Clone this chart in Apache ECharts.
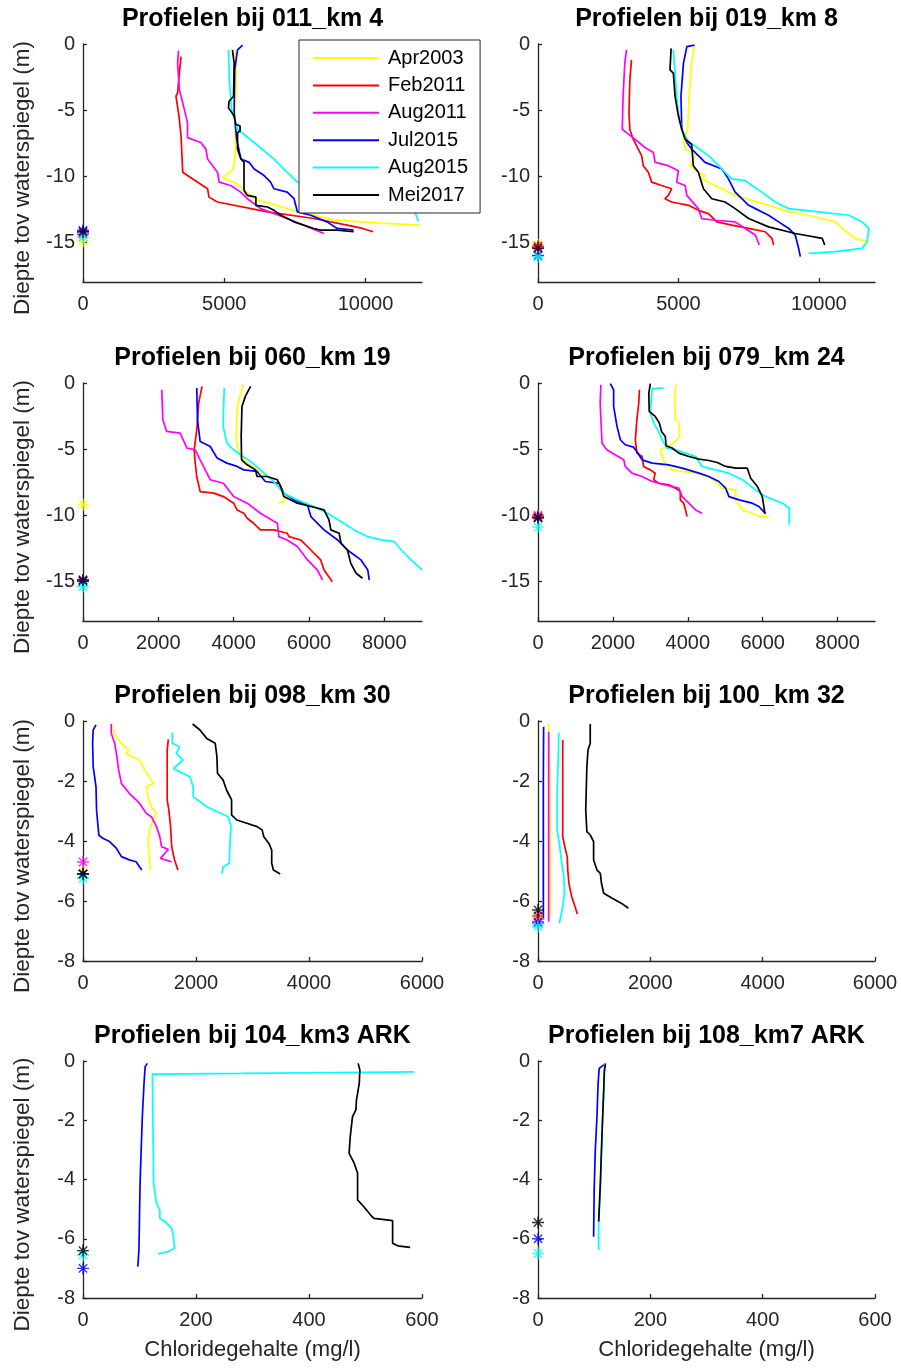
<!DOCTYPE html>
<html lang="nl">
<head>
<meta charset="UTF-8">
<title>Profielen chloridegehalte</title>
<script src="https://cdn.jsdelivr.net/npm/echarts@6/dist/echarts.min.js"></script>
<style>
  html, body { margin: 0; padding: 0; background: #fff; }
  #chart { width: 901px; height: 1369px; }
</style>
</head>
<body>
<div id="chart"></div>
<script>
// metingen: [chloride (mg/l), diepte (m)]
var seriesNames = ['Apr2003', 'Feb2011', 'Aug2011', 'Jul2015', 'Aug2015', 'Mei2017'];
var panelTitles = ['Profielen bij 011_km 4', 'Profielen bij 019_km 8', 'Profielen bij 060_km 19', 'Profielen bij 079_km 24',
  'Profielen bij 098_km 30', 'Profielen bij 100_km 32', 'Profielen bij 104_km3 ARK', 'Profielen bij 108_km7 ARK'];
var xMax = [12000, 12000, 9000, 9000, 6000, 6000, 600, 600];
var xTickValues = [[0, 5000, 10000], [0, 5000, 10000], [0, 2000, 4000, 6000, 8000], [0, 2000, 4000, 6000, 8000],
  [0, 2000, 4000, 6000], [0, 2000, 4000, 6000], [0, 200, 400, 600], [0, 200, 400, 600]];
var yMin = [-18, -18, -18, -18, -8, -8, -8, -8];
var yTickValues = [[0, -5, -10, -15], [0, -5, -10, -15], [0, -5, -10, -15], [0, -5, -10, -15],
  [0, -2, -4, -6, -8], [0, -2, -4, -6, -8], [0, -2, -4, -6, -8], [0, -2, -4, -6, -8]];

// 011_km 4
var p011_apr03 = [[5400,-0.5],[5420,-3],[5380,-6.0],[5400,-8.0],[5350,-9.0],[5300,-9.5],[4940,-10.1],[5470,-10.6],[6060,-11.7],[7470,-12.6],[8880,-13.3],[10500,-13.55],[11940,-13.7]];
var p011_feb11 = [[3470,-0.95],[3420,-2],[3350,-3.7],[3290,-3.95],[3400,-5.5],[3470,-6.95],[3530,-9.7],[3700,-9.95],[4410,-10.95],[4460,-11.58],[4760,-11.95],[6530,-12.7],[8170,-13.2],[9350,-13.7],[9900,-13.95],[10270,-14.2]];
var p011_aug11 = [[3380,-0.5],[3350,-1.45],[3410,-3.45],[3530,-4.45],[3700,-5.95],[3700,-7.08],[4170,-7.45],[4350,-7.95],[4410,-8.7],[4760,-9.7],[4820,-10.45],[5230,-10.7],[5580,-11.2],[5820,-11.7],[6290,-12.45],[7230,-13.2],[8530,-14.33]];
var p011_jul15 = [[5650,-0.08],[5470,-0.45],[5370,-1.95],[5350,-5.2],[5440,-7.2],[5590,-8.7],[5880,-8.95],[6060,-9.45],[6410,-9.95],[6640,-10.45],[6760,-10.95],[7230,-11.2],[7470,-11.7],[7590,-12.7],[8060,-12.95],[8640,-13.45],[9000,-13.95],[9580,-14.08]];
var p011_aug15 = [[5150,-0.45],[5180,-2.7],[5260,-4.95],[5470,-6.45],[6060,-7.45],[6760,-8.7],[7230,-9.7],[7590,-10.45],[8500,-10.6],[9800,-11.0],[11000,-11.6],[11700,-12.4],[11870,-13.4]];
var p011_mei17 = [[5290,-0.45],[5350,-1.45],[5330,-3.95],[5170,-4.33],[5150,-4.83],[5350,-5.45],[5410,-6.08],[5560,-6.2],[5560,-6.58],[5470,-6.7],[5470,-7.95],[5590,-8.7],[5700,-8.95],[5700,-11.08],[5820,-11.45],[6120,-11.58],[6120,-12.2],[6530,-12.33],[6760,-12.58],[7000,-12.95],[7470,-13.45],[8170,-13.95],[8410,-14.08],[9000,-14.08],[9580,-14.2]];
var p011_stars = [-14.9, -14.3, -14.4, -14.1, -14.6, -14.2];

// 019_km 8
var p019_apr03 = [[5570,-0.08],[5470,-1.45],[5380,-3.95],[5330,-6.45],[5180,-7.2],[5240,-7.95],[5470,-8.2],[5590,-8.45],[5410,-9.2],[5710,-9.7],[5950,-9.95],[5830,-10.2],[6070,-10.45],[6550,-10.95],[7020,-11.45],[7620,-11.83],[8210,-12.2],[8930,-12.7],[9640,-12.95],[10590,-13.45],[10830,-13.95],[11300,-14.7],[11720,-14.95]];
var p019_feb11 = [[3330,-1.2],[3270,-2.7],[3240,-5.2],[3270,-6.45],[3390,-7.2],[3570,-7.95],[3690,-8.45],[3750,-9.2],[3930,-9.7],[4050,-10.45],[4400,-10.7],[4760,-10.95],[4640,-11.45],[4520,-11.7],[4760,-11.95],[5360,-12.2],[5710,-12.58],[6070,-12.83],[6370,-13.45],[6900,-13.7],[7500,-13.95],[8090,-14.2],[8330,-14.7],[8390,-15.2]];
var p019_aug11 = [[3150,-0.45],[3090,-1.45],[3030,-3.95],[3000,-6.45],[3150,-6.7],[3450,-7.2],[3810,-7.83],[4110,-8.2],[4170,-8.95],[4640,-9.2],[5000,-9.58],[4940,-10.45],[5240,-10.7],[5300,-11.45],[5710,-12.45],[5830,-13.2],[6310,-13.33],[7020,-13.45],[7380,-13.95],[7740,-14.45],[7880,-15.2]];
var p019_jul15 = [[5570,-0.08],[5300,-0.2],[5180,-1.45],[5090,-3.95],[5120,-6.45],[5300,-7.45],[5470,-7.95],[5710,-8.45],[5950,-8.95],[6550,-9.45],[6780,-10.2],[7020,-11.2],[7260,-11.7],[7500,-12.2],[7740,-12.45],[8210,-12.95],[8570,-13.45],[8930,-13.95],[9160,-14.45],[9280,-15.45],[9340,-16.08]];
var p019_aug15 = [[4820,-0.45],[4880,-2.2],[4940,-3.95],[5000,-5.2],[5120,-6.45],[5360,-7.45],[5590,-7.7],[6070,-8.45],[6430,-9.2],[6660,-9.7],[6900,-10.2],[7380,-10.33],[7620,-10.7],[7970,-11.2],[8450,-11.95],[8930,-12.45],[10000,-12.7],[11070,-12.95],[11540,-13.45],[11780,-13.95],[11720,-14.95],[11540,-15.45],[10590,-15.7],[9640,-15.83]];
var p019_mei17 = [[4740,-0.33],[4700,-1.95],[4820,-2.2],[4880,-3.95],[5000,-5.45],[5120,-6.45],[5240,-7.2],[5470,-7.58],[5530,-9.2],[5710,-9.7],[5890,-10.95],[6190,-11.7],[6660,-11.95],[7020,-12.45],[7500,-13.2],[8210,-13.83],[9160,-14.33],[10120,-14.7],[10210,-15.2]];
var p019_stars = [-15.2, -15.3, -15.4, -16.0, -16.1, -15.45];

// 060_km 19
var p060_apr03 = [[4270,-0.13],[4180,-0.76],[4090,-2.02],[4070,-4.04],[4090,-4.8],[4180,-5.56],[4360,-6.06],[4620,-6.57],[4890,-7.07],[5160,-7.58],[5290,-8.08],[5380,-8.59],[5330,-8.96],[5200,-9.09]];
var p060_feb11 = [[3160,-0.25],[3070,-1.52],[3020,-3.54],[2950,-5.05],[2980,-6.06],[3020,-7.07],[3110,-8.21],[3470,-8.33],[3730,-8.59],[4000,-9.09],[4090,-9.6],[4270,-9.85],[4360,-10.23],[4530,-10.61],[4710,-11.11],[5070,-11.11],[5420,-11.36],[5470,-11.62],[5780,-11.87],[6050,-12.63],[6310,-13.38],[6400,-14.14],[6620,-15.03]];
var p060_aug11 = [[2090,-0.51],[2120,-2.78],[2220,-3.66],[2580,-3.79],[2760,-4.92],[2980,-5.05],[3110,-5.81],[3380,-7.32],[3730,-7.58],[4000,-8.59],[4360,-9.09],[4710,-9.85],[5160,-10.61],[5200,-11.62],[5420,-11.87],[5690,-12.37],[5960,-13.38],[6220,-14.14],[6360,-14.9]];
var p060_jul15 = [[3020,-0.38],[3040,-2.78],[3110,-4.42],[3380,-4.8],[3560,-5.68],[3820,-6.06],[4090,-6.31],[4270,-6.57],[4620,-6.69],[4840,-7.45],[5200,-7.58],[5330,-8.33],[5600,-8.84],[5960,-9.22],[6050,-10.1],[6400,-11.11],[6760,-11.87],[7020,-12.63],[7380,-13.38],[7560,-14.14],[7600,-14.9]];
var p060_aug15 = [[3750,-0.38],[3730,-2.02],[3720,-3.28],[3820,-4.55],[4000,-5.05],[4180,-5.43],[4450,-5.93],[4710,-6.57],[5020,-7.32],[5330,-8.33],[5690,-8.84],[6130,-9.34],[6490,-9.85],[6850,-10.48],[7200,-11.11],[7560,-11.62],[7910,-11.87],[8270,-12.0],[8450,-12.63],[8710,-13.38],[9000,-14.14]];
var p060_mei17 = [[4450,-0.25],[4310,-1.01],[4220,-1.77],[4200,-4.04],[4210,-5.81],[4360,-6.19],[4580,-6.57],[4620,-7.07],[4890,-7.07],[5160,-7.32],[5250,-7.83],[5330,-8.59],[5690,-9.09],[6050,-9.34],[6400,-9.6],[6530,-10.35],[6580,-11.11],[6800,-11.36],[6850,-12.12],[7020,-12.63],[7110,-13.64],[7250,-14.39],[7420,-14.77]];
var p060_stars = [-9.2, -15.0, -14.9, -15.0, -15.4, -14.9];

// 079_km 24
var p079_apr03 = [[3690,-0.13],[3650,-0.76],[3670,-2.78],[3780,-3.03],[3780,-4.04],[3670,-4.42],[3450,-4.8],[3270,-5.05],[3360,-5.93],[3580,-6.57],[3850,-6.69],[4210,-6.82],[4560,-7.07],[4790,-7.58],[4920,-7.95],[5280,-8.08],[5280,-8.84],[5460,-9.6],[5720,-9.85],[5900,-10.1],[6170,-10.1]];
var p079_feb11 = [[2710,-0.51],[2690,-1.52],[2640,-2.78],[2600,-4.29],[2640,-5.3],[2780,-5.56],[2820,-6.31],[3000,-6.57],[3130,-6.82],[3090,-7.32],[3220,-7.58],[3490,-7.7],[3670,-7.95],[3800,-8.21],[3800,-8.84],[3890,-9.09],[3940,-9.6],[3980,-10.1]];
var p079_aug11 = [[1680,-0.13],[1660,-1.52],[1710,-4.55],[1840,-5.05],[2060,-5.43],[2290,-5.81],[2330,-6.31],[2510,-6.82],[2780,-7.07],[3050,-7.45],[3400,-7.7],[3760,-7.95],[3850,-8.59],[4030,-9.09],[4210,-9.6],[4380,-9.85]];
var p079_jul15 = [[1930,-0.05],[2020,-0.51],[2020,-1.77],[2110,-3.28],[2200,-4.29],[2330,-4.67],[2550,-4.85],[2640,-5.18],[2780,-5.81],[3050,-6.06],[3490,-6.19],[3850,-6.44],[4300,-6.82],[4560,-7.07],[4830,-7.45],[5010,-7.95],[5100,-8.59],[5370,-8.84],[5720,-9.09],[5900,-9.34],[6080,-9.9]];
var p079_aug15 = [[3360,-0.38],[3050,-0.43],[3000,-2.27],[3090,-3.03],[3220,-3.66],[3310,-4.29],[3450,-4.92],[3670,-5.05],[3940,-5.3],[4210,-5.56],[4380,-6.31],[4740,-6.57],[5100,-6.82],[5460,-7.32],[5810,-8.08],[6080,-8.59],[6530,-9.09],[6710,-9.47],[6710,-10.73]];
var p079_mei17 = [[3000,-0.05],[2960,-0.76],[2970,-2.15],[3130,-2.53],[3240,-3.03],[3300,-3.66],[3400,-4.04],[3420,-4.75],[3580,-4.92],[3760,-5.3],[4030,-5.56],[4300,-5.76],[4560,-5.86],[4790,-6.01],[5010,-6.31],[5280,-6.44],[5590,-6.44],[5680,-7.2],[5860,-7.83],[5990,-8.59],[6060,-9.85]];
var p079_stars = [-10.1, -10.1, -10.0, -10.2, -10.9, -10.2];

// 098_km 30
var p098_apr03 = [[530,-0.19],[560,-0.47],[680,-0.74],[810,-0.97],[760,-1.08],[1000,-1.3],[1090,-1.63],[1250,-2.08],[1120,-2.19],[1150,-2.52],[1210,-2.86],[1300,-3.08],[1240,-3.3],[1180,-3.63],[1150,-3.97],[1170,-4.41],[1190,-4.97]];
var p098_feb11 = [[1510,-0.61],[1490,-0.97],[1490,-1.86],[1490,-2.63],[1520,-2.97],[1550,-3.52],[1570,-4.19],[1620,-4.63],[1680,-4.97]];
var p098_aug11 = [[500,-0.1],[500,-0.41],[560,-0.74],[600,-1.19],[630,-1.63],[680,-2.08],[820,-2.41],[1000,-2.74],[1120,-3.08],[1210,-3.19],[1300,-3.52],[1360,-3.86],[1390,-4.19],[1510,-4.28],[1450,-4.41],[1370,-4.58],[1570,-4.69]];
var p098_jul15 = [[230,-0.13],[180,-0.3],[170,-0.74],[180,-1.52],[230,-2.19],[240,-2.97],[280,-3.8],[350,-3.91],[470,-4.02],[590,-4.24],[680,-4.52],[820,-4.63],[940,-4.69],[1000,-4.86],[1040,-4.97]];
var p098_aug15 = [[1580,-0.39],[1580,-0.74],[1710,-0.86],[1650,-1.08],[1770,-1.3],[1600,-1.58],[1890,-1.86],[1950,-2.19],[1950,-2.52],[2190,-2.86],[2370,-3.02],[2570,-3.19],[2620,-3.52],[2600,-4.08],[2590,-4.74],[2480,-4.86],[2460,-5.08]];
var p098_mei17 = [[1940,-0.1],[2070,-0.3],[2190,-0.58],[2340,-0.74],[2370,-1.19],[2380,-1.74],[2480,-1.97],[2540,-2.3],[2630,-2.63],[2630,-3.13],[2720,-3.3],[2900,-3.41],[3080,-3.52],[3170,-3.63],[3200,-3.86],[3290,-4.08],[3340,-4.3],[3340,-4.74],[3370,-4.97],[3490,-5.1]];
var p098_stars = [-5.0, -5.1, -4.7, -5.1, -5.24, -5.1];

// 100_km 32
var p100_apr03 = [[190,-0.1],[190,-0.36],[215,-1.85],[220,-4.0],[220,-6.52]];
var p100_feb11 = [[440,-0.63],[460,-0.69],[440,-1.86],[440,-3.86],[490,-4.3],[520,-4.52],[530,-4.97],[550,-5.41],[600,-5.86],[660,-6.19],[700,-6.43]];
var p100_aug11 = [[190,-0.36],[190,-3.0],[190,-6.69]];
var p100_jul15 = [[100,-0.19],[95,-2.0],[95,-4.0],[95,-6.63]];
var p100_aug15 = [[370,-0.39],[360,-1.3],[340,-2.41],[340,-3.63],[380,-4.08],[415,-4.63],[460,-5.19],[470,-5.74],[430,-6.3],[380,-6.74]];
var p100_mei17 = [[930,-0.1],[930,-0.74],[890,-0.97],[870,-1.52],[850,-2.97],[870,-3.69],[930,-3.8],[990,-4.02],[990,-4.63],[1050,-4.97],[1110,-5.08],[1130,-5.41],[1170,-5.74],[1320,-5.91],[1490,-6.08],[1610,-6.24]];
var p100_stars = [-6.6, -6.5, -6.75, -6.7, -6.85, -6.3];

// 104_km3 ARK
var p104_jul15 = [[114,-0.08],[110,-0.19],[108,-0.75],[105,-1.88],[103,-3.0],[101,-4.13],[100,-5.25],[99,-6.38],[97,-6.94]];
var p104_aug15 = [[586,-0.37],[450,-0.39],[281,-0.42],[123,-0.44],[123,-0.75],[124,-2.44],[125,-4.13],[130,-4.8],[136,-5.03],[136,-5.31],[145,-5.42],[157,-5.65],[160,-5.93],[162,-6.32],[151,-6.43],[133,-6.51]];
var p104_mei17 = [[487,-0.08],[490,-0.3],[489,-0.75],[484,-1.32],[483,-1.65],[477,-1.88],[473,-2.55],[471,-3.12],[480,-3.45],[486,-3.79],[486,-4.69],[497,-4.92],[509,-5.2],[515,-5.31],[548,-5.39],[548,-6.15],[557,-6.24],[579,-6.29]];
var p104_stars = [null, null, null, -7.0, -6.55, -6.4];

// 108_km7 ARK
var p108_jul15 = [[117,-0.13],[109,-0.25],[107,-0.75],[105,-1.88],[102,-3.0],[100,-4.35],[99,-5.93]];
var p108_aug15 = [[119,-0.2],[117,-1.0],[114,-2.5],[111,-4.3],[108,-5.5],[108,-6.38]];
var p108_mei17 = [[120,-0.08],[118,-0.36],[117,-0.98],[114,-2.44],[111,-4.13],[108,-5.42]];
var p108_stars = [null, null, null, -6.0, -6.5, -5.45];

var panelProfiles = [
  [p011_apr03, p011_feb11, p011_aug11, p011_jul15, p011_aug15, p011_mei17],
  [p019_apr03, p019_feb11, p019_aug11, p019_jul15, p019_aug15, p019_mei17],
  [p060_apr03, p060_feb11, p060_aug11, p060_jul15, p060_aug15, p060_mei17],
  [p079_apr03, p079_feb11, p079_aug11, p079_jul15, p079_aug15, p079_mei17],
  [p098_apr03, p098_feb11, p098_aug11, p098_jul15, p098_aug15, p098_mei17],
  [p100_apr03, p100_feb11, p100_aug11, p100_jul15, p100_aug15, p100_mei17],
  [null, null, null, p104_jul15, p104_aug15, p104_mei17],
  [null, null, null, p108_jul15, p108_aug15, p108_mei17]
];
var panelStars = [p011_stars, p019_stars, p060_stars, p079_stars, p098_stars, p100_stars, p104_stars, p108_stars];

// opmaak
var colors = ['#ffff00', '#ff0000', '#ff00ff', '#0000ff', '#00ffff', '#000000'];
var font = 'Liberation Sans, Arial, Helvetica, sans-serif';
var axisColor = '#262626';
var colLeft = [83, 538], colWidth = [339, 337];
var rowTop = [44, 383, 721, 1061], rowHeight = [238, 238, 240, 237];
var starPath = 'path://M0,-10L0,10M-10,0L10,0M-7,-7L7,7M-7,7L7,-7';

function plainNumber(v) { return String(v); }

var chart = echarts.init(document.getElementById('chart'));
var grids = [], xAxes = [], yAxes = [], titles = [], series = [];

for (var i = 0; i < 8; i++) {
  var col = i % 2, row = Math.floor(i / 2);
  grids.push({ left: colLeft[col], top: rowTop[row], width: colWidth[col], height: rowHeight[row] });
  titles.push({
    text: panelTitles[i], left: colLeft[col] + colWidth[col] / 2, top: rowTop[row] - 37,
    textAlign: 'center', padding: 0,
    textStyle: { fontSize: 25, fontWeight: 'bold', color: '#000', fontFamily: font }
  });
  xAxes.push({
    gridIndex: i, type: 'value', min: 0, max: xMax[i],
    axisLine: { onZero: false, lineStyle: { color: axisColor, width: 1.3 } },
    axisTick: { inside: true, length: 4, customValues: xTickValues[i], lineStyle: { color: axisColor, width: 1.3 } },
    axisLabel: { customValues: xTickValues[i], formatter: plainNumber, margin: 12, fontSize: 20, color: axisColor, fontFamily: font },
    splitLine: { show: false },
    name: row === 3 ? 'Chloridegehalte (mg/l)' : '', nameLocation: 'middle', nameGap: 41,
    nameTextStyle: { fontSize: 22, color: axisColor, fontFamily: font }
  });
  yAxes.push({
    gridIndex: i, type: 'value', min: yMin[i], max: 0,
    axisLine: { onZero: false, lineStyle: { color: axisColor, width: 1.3 } },
    axisTick: { inside: true, length: 4, customValues: yTickValues[i], lineStyle: { color: axisColor, width: 1.3 } },
    axisLabel: { customValues: yTickValues[i], formatter: plainNumber, margin: 8, fontSize: 20, color: axisColor, fontFamily: font },
    splitLine: { show: false },
    name: col === 0 ? 'Diepte tov waterspiegel (m)' : '', nameLocation: 'middle', nameGap: 49,
    nameTextStyle: { fontSize: 22.5, color: axisColor, fontFamily: font, padding: [0, 30, 0, 0] }
  });

  var profiles = panelProfiles[i];
  for (var k = 0; k < 6; k++) {
    if (!profiles[k]) continue;
    series.push({
      type: 'line', name: seriesNames[k], xAxisIndex: i, yAxisIndex: i,
      data: profiles[k], symbol: 'none', silent: true,
      lineStyle: { color: colors[k], width: 1.7 }, itemStyle: { color: colors[k] }
    });
  }

  var stars = [];
  for (var k = 0; k < 6; k++) {
    if (panelStars[i][k] === null) continue;
    stars.push({ value: [0, panelStars[i][k]], itemStyle: { color: colors[k], borderColor: colors[k], borderWidth: 1.4 } });
  }
  series.push({
    type: 'scatter', name: 'bodem ' + i, xAxisIndex: i, yAxisIndex: i,
    symbol: starPath, symbolSize: 12, data: stars, silent: true, z: 3
  });
}

chart.setOption({
  animation: false,
  backgroundColor: '#fff',
  title: titles,
  grid: grids,
  xAxis: xAxes,
  yAxis: yAxes,
  legend: {
    data: seriesNames, orient: 'vertical', left: 299, top: 40,
    icon: 'rect', itemWidth: 66, itemHeight: 2, itemGap: 7.4, padding: [8, 12, 8, 14],
    borderColor: axisColor, borderWidth: 1, backgroundColor: '#fff', selectedMode: false,
    textStyle: { fontSize: 20, color: '#000', fontFamily: font, padding: [0, 0, 0, 4] }
  },
  series: series
});
</script>
</body>
</html>
